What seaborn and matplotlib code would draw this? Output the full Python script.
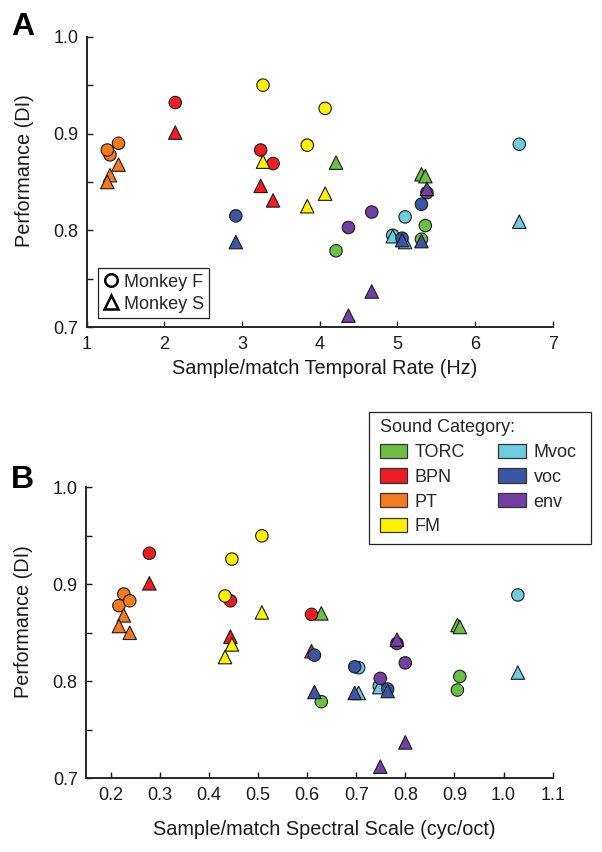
import matplotlib
matplotlib.use("Agg")
import matplotlib.pyplot as plt
import seaborn as sns
import pandas as pd
from matplotlib.patches import Patch, Rectangle
from matplotlib.lines import Line2D

# ---------------- data ----------------
categories = ["TORC", "BPN", "PT", "FM", "Mvoc", "voc", "env"]
category_colors = ["#6CBE45", "#EE1D23", "#F47A20", "#FFF100", "#6DCCDD", "#3A55A4", "#7140A0"]

# three stimuli per category (in category order)
stim_category = ["TORC", "TORC", "TORC", "BPN", "BPN", "BPN", "PT", "PT", "PT",
                 "FM", "FM", "FM", "Mvoc", "Mvoc", "Mvoc", "voc", "voc", "voc",
                 "env", "env", "env"]
temporal_rate = [4.21, 5.31, 5.36, 2.14, 3.24, 3.40, 1.41, 1.30, 1.265,
                 3.27, 4.07, 3.84, 6.57, 5.10, 4.94, 5.31, 2.92, 5.06,
                 4.37, 4.67, 5.38]
spectral_scale = [0.629, 0.906, 0.911, 0.279, 0.444, 0.609, 0.227, 0.217, 0.239,
                  0.508, 0.447, 0.433, 1.029, 0.705, 0.747, 0.615, 0.697, 0.764,
                  0.749, 0.800, 0.783]
di_monkey_F = [0.779, 0.791, 0.805, 0.932, 0.883, 0.869, 0.890, 0.878, 0.883,
               0.950, 0.926, 0.888, 0.889, 0.814, 0.795, 0.827, 0.815, 0.792,
               0.803, 0.819, 0.839]
di_monkey_S = [0.870, 0.858, 0.856, 0.901, 0.846, 0.831, 0.868, 0.857, 0.850,
               0.871, 0.838, 0.825, 0.809, 0.788, 0.794, 0.789, 0.788, 0.790,
               0.712, 0.737, 0.843]

monkeys = ["Monkey F", "Monkey S"]

# long table: per category, circles (F) first then triangles (S)
rows = []
for cat in categories:
    for monkey, di in zip(monkeys, [di_monkey_F, di_monkey_S]):
        for i, c in enumerate(stim_category):
            if c == cat:
                rows.append(dict(category=cat, monkey=monkey, rate=temporal_rate[i],
                                 scale=spectral_scale[i], DI=di[i]))
df = pd.DataFrame(rows)

# ---------------- style ----------------
sns.set_style("ticks")
plt.rcParams["font.family"] = ["Liberation Sans", "DejaVu Sans"]
plt.rcParams["axes.linewidth"] = 1.4

W, H = 602, 852
fig = plt.figure(figsize=(W / 100, H / 100), dpi=100)

def fig_rect(l, t, r, b):
    return [l / W, 1 - b / H, (r - l) / W, (b - t) / H]

axA = fig.add_axes(fig_rect(86.7, 36.7, 552.7, 327.3))
axB = fig.add_axes(fig_rect(86.0, 487.3, 552.7, 778.3))

palette = dict(zip(categories, category_colors))
markers = {"Monkey F": "o", "Monkey S": "^"}
sizes = {"Monkey F": 80, "Monkey S": 94}

for ax, xcol in [(axA, "rate"), (axB, "scale")]:
    sns.scatterplot(data=df, x=xcol, y="DI", hue="category", hue_order=categories,
                    palette=palette, style="monkey", markers=markers,
                    size="monkey", sizes=sizes, edgecolor="#1a1a1a", linewidth=0.8,
                    alpha=1, legend=False, ax=ax, zorder=3)
    sns.despine(ax=ax)
    ax.set_ylim(0.7, 1.0)
    yt = [0.7, 0.75, 0.8, 0.85, 0.9, 0.95, 1.0]
    ax.set_yticks(yt)
    ax.set_yticklabels(["0.7", "", "0.8", "", "0.9", "", "1.0"])
    ax.tick_params(direction="in", length=4, width=1.0, labelsize=13, pad=6,
                   colors="#1a1a1a", labelcolor="#1a1a1a")
    ax.set_ylabel("Performance (DI)", fontsize=14.3, color="#1a1a1a")
    ax.yaxis.set_label_coords(-0.113, 0.54)

axA.set_xlim(1, 7)
axA.set_xticks([1, 2, 3, 4, 5, 6, 7])
axA.set_xlabel("Sample/match Temporal Rate (Hz)", fontsize=14.3, color="#1a1a1a")
axA.xaxis.set_label_coords(0.511, -0.11)

axB.set_xlim(0.15, 1.1)
bt = [0.2, 0.3, 0.4, 0.5, 0.6, 0.7, 0.8, 0.9, 1.0, 1.1]
axB.set_xticks(bt)
axB.set_xticklabels([f"{v:.1f}" for v in bt])
axB.set_xlabel("Sample/match Spectral Scale (cyc/oct)", fontsize=14.3, color="#1a1a1a")
axB.xaxis.set_label_coords(0.511, -0.145)

# legend A: monkeys
hA = [Line2D([], [], marker="o", ls="", mfc="white", mec="black", mew=1.8, ms=9, label="Monkey F"),
      Line2D([], [], marker="^", ls="", mfc="white", mec="black", mew=1.8, ms=10, label="Monkey S")]
legA = axA.legend(handles=hA, loc="lower left", bbox_to_anchor=(97.7 / W, 1 - 318 / H),
                  bbox_transform=fig.transFigure, frameon=True, fancybox=False,
                  edgecolor="#222222", framealpha=1, fontsize=13, handlelength=0.9,
                  handletextpad=0.25, borderpad=0.3, labelspacing=0.28, borderaxespad=0)
legA.get_frame().set_linewidth(0.9)

# legend B: sound categories (frame drawn separately to match box size)
hB = [Patch(facecolor=palette[c], edgecolor="#333333", linewidth=0.9, label=c) for c in categories]
legB = fig.legend(handles=hB, loc="upper left", bbox_to_anchor=(379.5 / W, 1 - 419.5 / H),
                  bbox_transform=fig.transFigure, ncol=2, title="Sound Category:",
                  title_fontsize=13, alignment="left", frameon=False,
                  fontsize=13, handlelength=1.5,
                  handleheight=0.85, handletextpad=0.45, columnspacing=1.85,
                  borderpad=0, labelspacing=0.4, borderaxespad=0)
fig.add_artist(Rectangle((369.3 / W, 1 - 544 / H), (591 - 369.3) / W, (544 - 411.7) / H,
                         transform=fig.transFigure, fill=True, facecolor="white",
                         edgecolor="#222222", linewidth=0.9, zorder=legB.get_zorder() - 0.1))

fig.text(11 / W, 1 - 35 / H, "A", fontsize=23, fontweight="bold", va="baseline", color="black")
fig.text(11 / W, 1 - 488 / H, "B", fontsize=23, fontweight="bold", va="baseline", color="black")

fig.savefig("out.png", dpi=100)
